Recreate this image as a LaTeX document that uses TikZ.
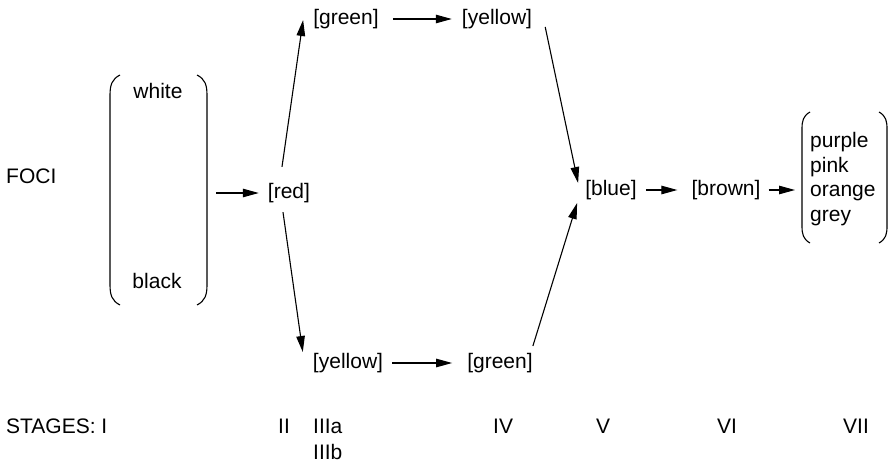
\documentclass[tikz,border=0pt]{standalone}
\usepackage{fontspec}
\setmainfont{Liberation Sans}
\usetikzlibrary{arrows.meta}
\begin{document}
\begin{tikzpicture}[x=1pt,y=-1pt,
  lbl/.style={inner sep=0pt,font=\fontsize{21pt}{24.5pt}\selectfont},
  state/.style={lbl,text height=15pt,text depth=5pt},
  flow/.style={line width=1.1pt,-{Triangle[length=16pt,width=8.5pt]}},
  paren/.style={line width=1.1pt}]
\useasboundingbox (0,0) rectangle (892,463);

% title and the starting pair of foci
\node[lbl,anchor=base west] (foci) at (6,183) {FOCI};
\node[lbl,anchor=base] (white) at (158,98) {white};
\node[lbl,anchor=base] (black) at (157,288) {black};
\draw[paren] (120,75) .. controls (112,79) and (110,85) .. (110,95) -- (110,285)
  .. controls (110,295) and (112,301) .. (120,305);
\draw[paren] (197,75) .. controls (205,79) and (207,85) .. (207,95) -- (207,285)
  .. controls (207,295) and (205,301) .. (197,305);
\coordinate (pairout) at (216,193);

% intermediate states
\node[state] (red) at (289,193) {[red]};
\node[state] (greenT) at (346,19) {[green]};
\node[state] (yellowT) at (497,19) {[yellow]};
\node[state] (yellowB) at (348,363) {[yellow]};
\node[state] (greenB) at (500,363) {[green]};
\node[state] (blue) at (611,190) {[blue]};
\node[state] (brown) at (726,190) {[brown]};

% final group of colours
\node[lbl,anchor=west,align=left] (final) at (810,179)
  {purple\\pink\\orange\\grey};
\draw[paren] (810,112) .. controls (803,116) and (802,121) .. (802,129) -- (802,226)
  .. controls (802,234) and (803,239) .. (810,243);
\draw[paren] (879,112) .. controls (886,116) and (887,121) .. (887,129) -- (887,226)
  .. controls (887,234) and (886,239) .. (879,243);

% connectors
\draw[flow] (pairout) -- ([xshift=-9pt]red.west);
\draw[flow] ([shift={(-7pt,16pt)}]red.north) -- ([shift={(-10pt,-1pt)}]greenT.west);
\draw[flow] ([shift={(-6pt,-9pt)}]red.south) -- ([shift={(-10pt,11pt)}]yellowB.west);
\draw[flow] ([xshift=14pt]greenT.east) -- ([xshift=-10pt]yellowT.west);
\draw[flow] ([xshift=9pt]yellowB.east) -- ([xshift=-15pt]greenB.west);
\draw[flow] ([shift={(13pt,-8pt)}]yellowT.east) -- ([shift={(-7pt,7pt)}]blue.west);
\draw[flow] ([shift={(0pt,17pt)}]greenB.east) -- ([shift={(-8pt,-13pt)}]blue.west);
\draw[flow] ([xshift=9pt]blue.east) -- ([xshift=-14pt]brown.west);
\draw[flow] ([xshift=8pt]brown.east) -- ([xshift=-15pt]final.west |- brown.east);

% stage row
\node[lbl,anchor=base west] (s1) at (6,433) {STAGES: I};
\node[lbl,anchor=base west] (s2) at (278,433) {II};
\node[lbl,anchor=base west] (s3a) at (313,433) {IIIa};
\node[lbl,anchor=base west] (s3b) at (313,459) {IIIb};
\node[lbl,anchor=base west] (s4) at (493,433) {IV};
\node[lbl,anchor=base west] (s5) at (596,433) {V};
\node[lbl,anchor=base west] (s6) at (717,433) {VI};
\node[lbl,anchor=base west] (s7) at (843,433) {VII};
\end{tikzpicture}
\end{document}
